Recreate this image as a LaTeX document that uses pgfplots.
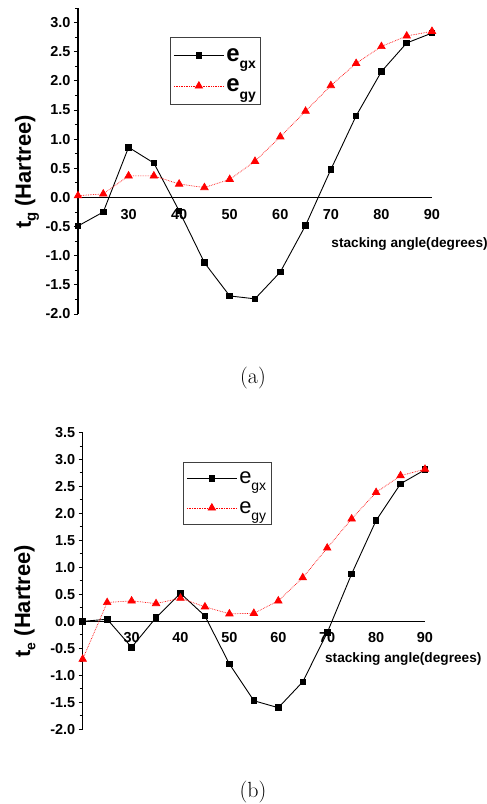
\documentclass[border=0pt]{standalone}
\usepackage{fontspec}
\usepackage{pgfplots}
\pgfplotsset{compat=1.18}
\newfontfamily\arial{Liberation Sans}

\pgfplotsset{
  stackstyle/.style={
    scale only axis,
    xmin=20, xmax=90, ymin=-2,
    axis x line=middle, axis y line=left,
    axis line style={-, line width=1.3pt},
    xtick={20,30,...,90},
    ytick={-2,-1.5,...,3.5},
    minor y tick num=1,
    tick align=outside,
    major tick length=4bp, minor tick length=3bp,
    every tick/.style={black, line width=1pt},
    xtick style={draw=none},
    /pgf/number format/assume math mode=true,
    yticklabel={\pgfmathprintnumber[fixed,fixed zerofill,precision=1]{\tick}},
    xticklabel style={font=\arial\bfseries\fontsize{14.5}{14.5}\selectfont, yshift=-4bp},
    yticklabel style={font=\arial\bfseries\fontsize{14.5}{14.5}\selectfont},
    xlabel={stacking angle(degrees)},
    xlabel style={font=\arial\bfseries\fontsize{13.7}{13.7}\selectfont, anchor=west},
    ylabel style={font=\arial\bfseries\fontsize{22}{22}\selectfont, anchor=center},
    legend cell align=left,
    legend image code/.code={\draw[#1, mark repeat=2, mark phase=2] plot coordinates {(0bp,0bp) (25bp,0bp) (50bp,0bp)};},
  },
  gx/.style={black, line width=0.9pt, mark=square*, mark size=2.8bp, mark options={solid}},
  gy/.style={red, line width=0.7pt, densely dotted, mark=triangle*, mark size=4.3bp, mark options={solid}},
}

\begin{document}
\begin{tikzpicture}
\path[use as bounding box] (0,0) rectangle (487bp,-804bp);

% (a)
\begin{axis}[stackstyle,
  at={(78bp,-314bp)}, anchor=south west,
  width=354bp, height=306bp, ymax=3.25,
  xlabel style={at={(axis description cs:0.706,0.229)}},
  ylabel={t\raisebox{-0.45ex}{\fontsize{15}{15}\selectfont g} (Hartree)},
  ylabel style={at={(axis description cs:-0.144,0.464)}},
  legend style={at={(axis description cs:0.26,0.905)}, anchor=north west,
    draw=black!75, line width=0.8pt, inner xsep=3bp, inner ysep=9bp,
    row sep=12bp, font=\arial\bfseries\fontsize{24}{24}\selectfont},
]
\addplot[gx] coordinates {
 (20,-0.49) (25,-0.25) (30,0.86) (35,0.59) (40,-0.23) (45,-1.12) (50,-1.69) (55,-1.74)
 (60,-1.28) (65,-0.48) (70,0.48) (75,1.40) (80,2.16) (85,2.65) (90,2.82)};
\addlegendentry{e\raisebox{-0.6ex}{\fontsize{14}{14}\selectfont gx}}
\addplot[gy] coordinates {
 (20,0.03) (25,0.06) (30,0.37) (35,0.37) (40,0.23) (45,0.17) (50,0.31) (55,0.62)
 (60,1.04) (65,1.48) (70,1.92) (75,2.30) (80,2.59) (85,2.77) (90,2.85)};
\addlegendentry{e\raisebox{-0.6ex}{\fontsize{14}{14}\selectfont gy}}
\end{axis}

% (b)
\begin{axis}[stackstyle,
  at={(82.7bp,-729.3bp)}, anchor=south west,
  width=342.3bp, height=296.8bp, ymax=3.5,
  xlabel style={at={(axis description cs:0.698,0.236)}},
  ylabel={t\raisebox{-0.45ex}{\fontsize{14}{14}\selectfont e} (Hartree)},
  ylabel style={at={(axis description cs:-0.169,0.432)}},
  legend style={at={(axis description cs:0.293,0.902)}, anchor=north west,
    draw=black!75, line width=0.8pt, inner xsep=3bp, inner ysep=8bp,
    row sep=12bp, font=\arial\fontsize{22}{22}\selectfont},
]
\addplot[gx] coordinates {
 (20,0.00) (25,0.04) (30,-0.48) (35,0.07) (40,0.52) (45,0.10) (50,-0.79) (55,-1.47)
 (60,-1.60) (65,-1.12) (70,-0.21) (75,0.88) (80,1.87) (85,2.55) (90,2.81)};
\addlegendentry{e\raisebox{-0.6ex}{\fontsize{14}{14}\selectfont gx}}
\addplot[gy] coordinates {
 (20,-0.70) (25,0.35) (30,0.38) (35,0.33) (40,0.43) (45,0.27) (50,0.14) (55,0.15)
 (60,0.38) (65,0.81) (70,1.36) (75,1.90) (80,2.39) (85,2.70) (90,2.82)};
\addlegendentry{e\raisebox{-0.6ex}{\fontsize{14}{14}\selectfont gy}}
\end{axis}

\node[font=\fontsize{22}{22}\selectfont] at (253bp,-378bp) {(a)};
\node[font=\fontsize{22}{22}\selectfont] at (253bp,-792bp) {(b)};
\end{tikzpicture}
\end{document}
